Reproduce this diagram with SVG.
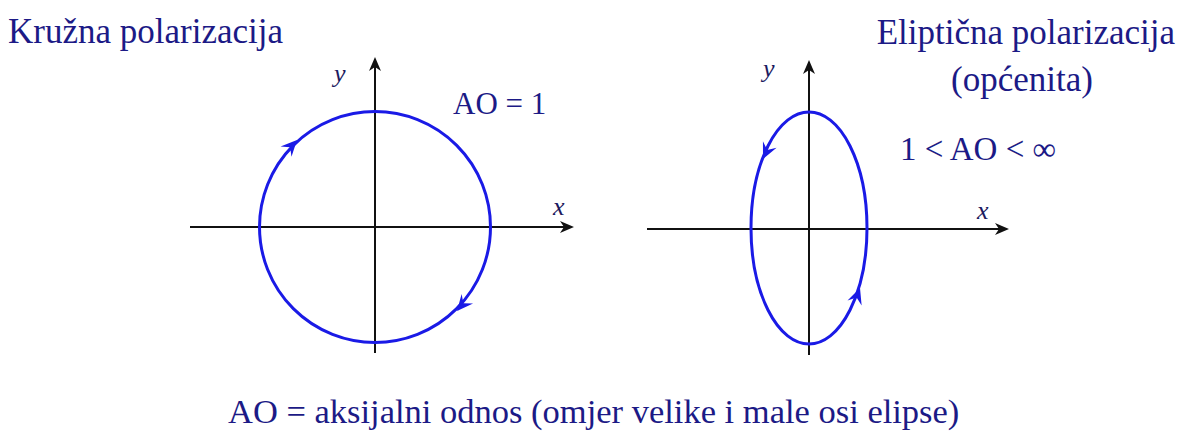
<svg xmlns="http://www.w3.org/2000/svg" xmlns:xlink="http://www.w3.org/1999/xlink" width="1180" height="437" viewBox="0 0 1180 437">
<style>
.t{font-family:"Liberation Serif","Times New Roman",serif;fill:#1c1a86}
.ax{font-family:"Liberation Serif","Times New Roman",serif;font-style:italic;fill:#1c1a60;font-size:26px}
.axis{stroke:#111;stroke-width:2;fill:none}
.pol{stroke:#1a1ae6;stroke-width:3;fill:none}
</style>
<defs>
<path id="ah" d="M0,0 L-16,-7.5 L-10,0 L-16,7.5 Z" fill="#1a1ae6"/>
<path id="axh" d="M0,0 L-14,-6 L-10,0 L-14,6 Z" fill="#111"/>
</defs>
<rect width="1180" height="437" fill="#fff"/>
<g id="circular">
<line class="axis" x1="190" y1="227" x2="565" y2="227"/>
<use xlink:href="#axh" transform="translate(574,227)"/>
<line class="axis" x1="375" y1="353" x2="375" y2="66"/>
<use xlink:href="#axh" transform="translate(375,57) rotate(-90)"/>
<circle class="pol" cx="375" cy="227" r="115.5"/>
<use xlink:href="#ah" transform="translate(297,140) rotate(-46.7)"/>
<use xlink:href="#ah" transform="translate(457,311) rotate(130.2)"/>
<text class="ax" x="334" y="82">y</text>
<text class="ax" x="553" y="215">x</text>
<text class="t" x="453" y="114" font-size="31">AO = 1</text>
<text class="t" x="8" y="43" font-size="35">Kružna polarizacija</text>
</g>
<g id="elliptical">
<line class="axis" x1="647" y1="229" x2="1000" y2="229"/>
<use xlink:href="#axh" transform="translate(1009,229)"/>
<line class="axis" x1="809" y1="355" x2="809" y2="69"/>
<use xlink:href="#axh" transform="translate(809,60) rotate(-90)"/>
<ellipse class="pol" cx="809" cy="228" rx="58" ry="116"/>
<use xlink:href="#ah" transform="translate(763,159) rotate(114.9)"/>
<use xlink:href="#ah" transform="translate(860,288) rotate(-70.2)"/>
<text class="ax" x="763" y="77">y</text>
<text class="ax" x="977" y="219">x</text>
<text class="t" x="900" y="160" font-size="33">1 &lt; AO &lt; ∞</text>
<text class="t" x="1175" y="44" font-size="35" text-anchor="end">Eliptična polarizacija</text>
<text class="t" x="1022" y="91" font-size="35" text-anchor="middle">(općenita)</text>
</g>
<g id="caption">
<text class="t" x="228" y="423" font-size="34.5">AO = aksijalni odnos (omjer velike i male osi elipse)</text>
</g>
<g id="connectors"/>
</svg>
